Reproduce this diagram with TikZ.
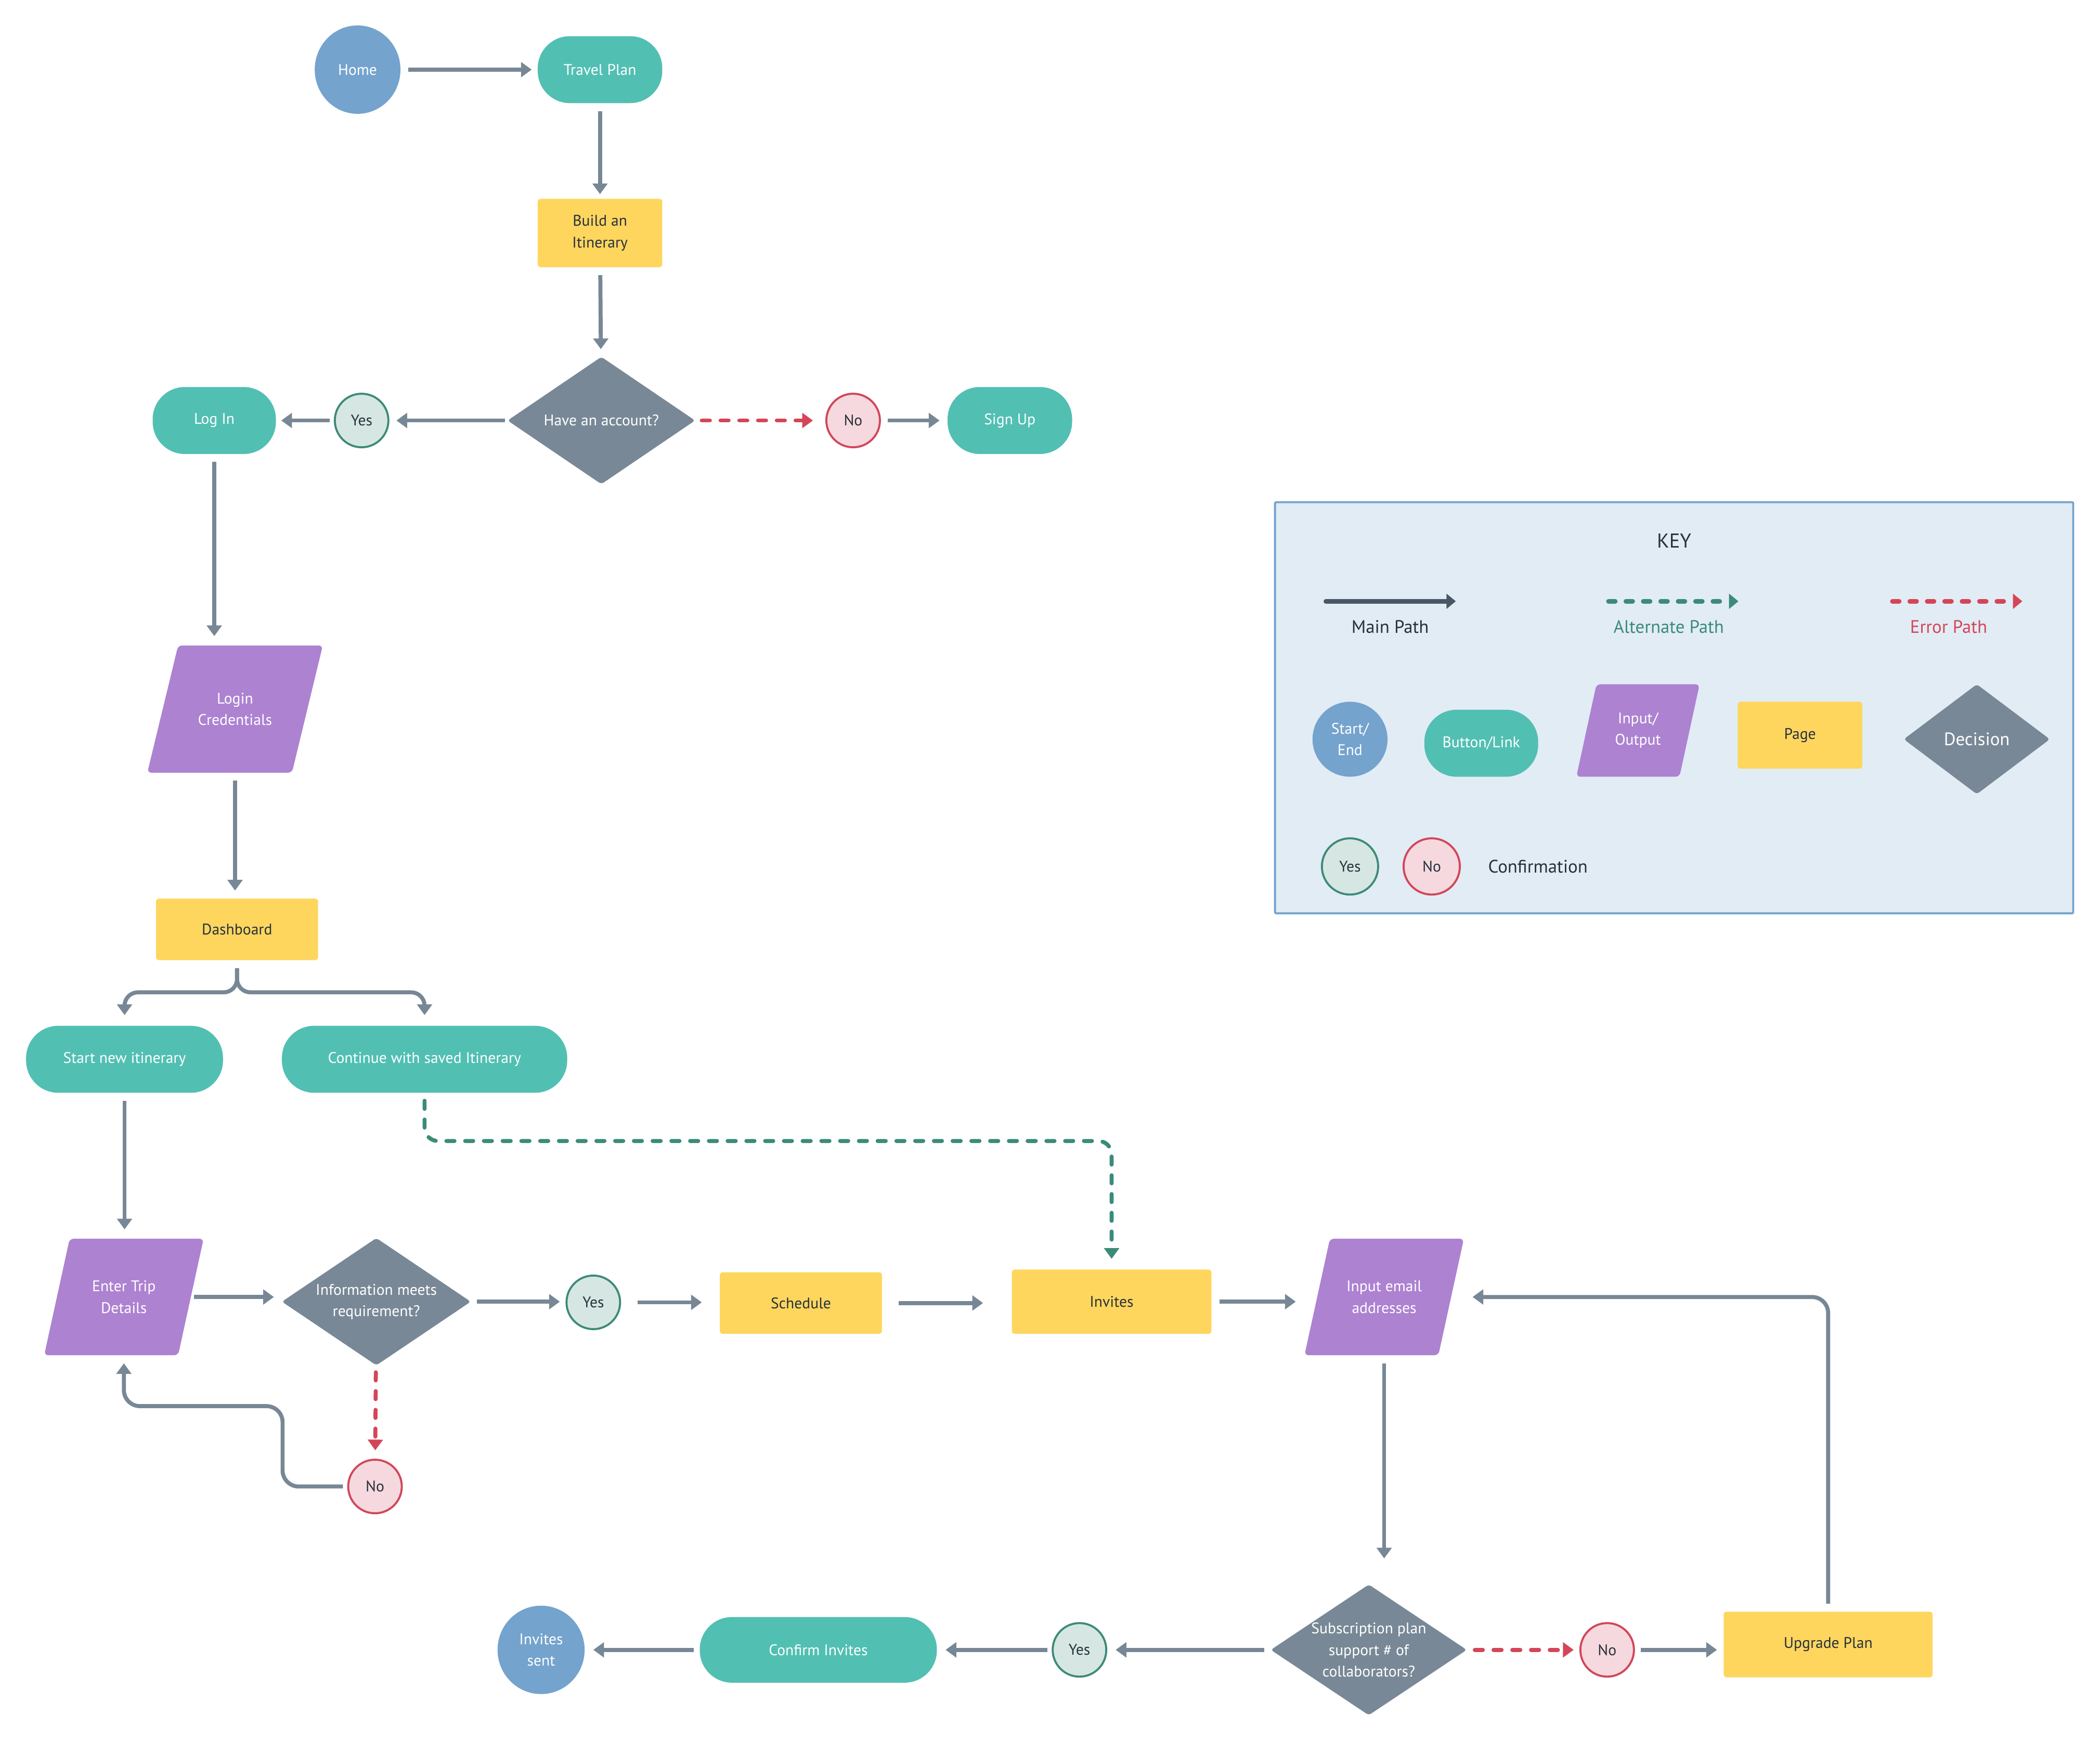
\documentclass[tikz,border=0pt]{standalone}
\usepackage{fontspec}
\setmainfont{PT Sans}
\usetikzlibrary{arrows.meta,shapes.geometric,calc}
\definecolor{cBlue}{HTML}{74A3CD}
\definecolor{cTeal}{HTML}{52BFB3}
\definecolor{cPurple}{HTML}{AD82D1}
\definecolor{cYellow}{HTML}{FED65E}
\definecolor{cGray}{HTML}{788896}
\definecolor{cArrow}{HTML}{778795}
\definecolor{cYesFill}{HTML}{D6E7E3}
\definecolor{cYesLine}{HTML}{3E8A78}
\definecolor{cNoFill}{HTML}{F6D9DE}
\definecolor{cNoLine}{HTML}{D2465A}
\definecolor{cRed}{HTML}{D34658}
\definecolor{cAlt}{HTML}{3B8B79}
\definecolor{cText}{HTML}{27313D}
\definecolor{cKeyFill}{HTML}{E2ECF5}
\definecolor{cKeyLine}{HTML}{74A3CD}
\definecolor{cMainKey}{HTML}{4A5866}
\pgfdeclarelayer{bg}
\pgfsetlayers{bg,main}
\newcommand\ioshape[2]{\fill[cPurple, rounded corners=3pt] ($(#1.north west)+(#2,0)$) -- ($(#1.north east)+(#2,0)$) -- ($(#1.south east)-(#2,0)$) -- ($(#1.south west)-(#2,0)$) -- cycle;}
\begin{document}
\begin{tikzpicture}[x=1pt,y=-1pt,
  base/.style={inner sep=0pt, outer sep=0pt, align=center, font=\fontsize{11.5}{16}\selectfont},
  startend/.style={base, ellipse, fill=cBlue, text=white},
  button/.style={base, rectangle, rounded corners=24pt, fill=cTeal, text=white},
  page/.style={base, rectangle, rounded corners=2pt, fill=cYellow, text=cText},
  decision/.style={base, diamond, aspect=1.5, fill=cGray, text=white, rounded corners=2pt},
  io/.style={base, rectangle, text=white},
  yesnode/.style={base, circle, minimum size=40pt, fill=cYesFill, draw=cYesLine, line width=1.5pt, text=cText},
  nonode/.style={base, circle, minimum size=40pt, fill=cNoFill, draw=cNoLine, line width=1.5pt, text=cText},
  mainarrow/.style={draw=cArrow, line width=3pt, -{Triangle[length=8pt,width=11pt]}, shorten <=6pt, shorten >=6pt},
  altarrow/.style={draw=cAlt, line width=3pt, line cap=round, dash pattern=on 6pt off 8pt, -{Triangle[length=8pt,width=11pt]}, shorten <=6pt, shorten >=6pt},
  errarrow/.style={draw=cRed, line width=3pt, line cap=round, dash pattern=on 6pt off 8pt, -{Triangle[length=8pt,width=11pt]}, shorten <=6pt, shorten >=6pt},
  keylabel/.style={font=\fontsize{13.5}{16}\selectfont, inner sep=0pt}
]
\useasboundingbox (0,0) rectangle (1568,1300);

% background and key box
\begin{pgfonlayer}{bg}
\fill[white] (0,0) rectangle (1568,1300);
\node[draw=cKeyLine, fill=cKeyFill, line width=1.5pt, rounded corners=1pt, minimum width=596pt, minimum height=307pt, inner sep=0pt] (keybox) at (1250,528.5) {};
\end{pgfonlayer}

% main flow nodes
\node[startend, minimum width=64pt, minimum height=66pt] (home) at (267,52) {Home};
\node[button, minimum width=93pt, minimum height=50pt] (tp) at (448,52) {Travel Plan};
\node[page, minimum width=93pt, minimum height=51pt] (build) at (448,174) {Build an\\Itinerary};
\node[decision, minimum width=140pt, minimum height=95pt] (have) at (449,314) {Have an account?};
\node[yesnode] (yes1) at (270,314) {Yes};
\node[button, minimum width=92pt, minimum height=50pt] (login) at (160,314) {Log In};
\node[nonode] (no1) at (637,314) {No};
\node[button, minimum width=93pt, minimum height=50pt] (signup) at (754,314) {Sign Up};
\node[io, minimum width=108pt, minimum height=95pt] (lc) at (175.5,529.5) {Login\\Credentials};
\node[page, minimum width=121pt, minimum height=46pt] (dash) at (177,694) {Dashboard};
\node[button, minimum width=147pt, minimum height=50pt] (sni) at (93,791) {Start new itinerary};
\node[button, minimum width=213pt, minimum height=50pt] (cont) at (317,791) {Continue with saved Itinerary};
\node[io, minimum width=100pt, minimum height=87pt] (etd) at (92.5,968.5) {Enter Trip\\Details};
\node[decision, minimum width=141pt, minimum height=95pt] (info) at (281,972) {Information meets\\requirement?};
\node[yesnode] (yes2) at (443,972.5) {Yes};
\node[page, minimum width=121pt, minimum height=46pt] (sched) at (598,973) {Schedule};
\node[page, minimum width=149pt, minimum height=48pt] (inv) at (830,972) {Invites};
\node[io, minimum width=100pt, minimum height=87pt] (iea) at (1033.5,968.5) {Input email\\addresses};
\node[nonode] (no3) at (280,1110) {No};
\node[decision, minimum width=140pt, minimum height=95pt] (sub) at (1022,1232) {Subscription plan\\support \# of\\collaborators?};
\node[nonode] (no4) at (1200,1232) {No};
\node[page, minimum width=156pt, minimum height=49pt] (up) at (1365,1228) {Upgrade Plan};
\node[yesnode] (yes5) at (806,1232) {Yes};
\node[button, minimum width=177pt, minimum height=49pt] (ci) at (611,1232) {Confirm Invites};
\node[startend, minimum width=65pt, minimum height=66pt] (sent) at (404,1232) {Invites\\sent};

% key contents
\node[keylabel, text=cText, font=\fontsize{15}{16}\selectfont] (keytitle) at (1250,404) {KEY};
\coordinate (kma) at (990,449); \coordinate (kmb) at (1087,449);
\coordinate (kaa) at (1201,449); \coordinate (kab) at (1298,449);
\coordinate (kea) at (1413,449); \coordinate (keb) at (1510,449);
\draw[draw=cMainKey, line width=3.5pt, line cap=round, -{Triangle[length=7pt,width=11pt]}] (kma) -- (kmb);
\draw[draw=cAlt, line width=3.5pt, line cap=round, dash pattern=on 5pt off 8pt, -{Triangle[length=7pt,width=11pt]}] (kaa) -- (kab);
\draw[draw=cRed, line width=3.5pt, line cap=round, dash pattern=on 5pt off 8pt, -{Triangle[length=7pt,width=11pt]}] (kea) -- (keb);
\node[keylabel, text=cText] (lmain) at (1038,468) {Main Path};
\node[keylabel, text=cAlt] (lalt) at (1246,468) {Alternate Path};
\node[keylabel, text=cRed] (lerr) at (1455,468) {Error Path};
\node[startend, minimum width=56pt, minimum height=56pt] (kse) at (1008,552) {Start/\\End};
\node[button, minimum width=85pt, minimum height=50pt] (kbl) at (1106,555) {Button/Link};
\node[io, minimum width=77pt, minimum height=69pt] (kio) at (1223,545.5) {Input/\\Output};
\node[page, minimum width=93pt, minimum height=50pt] (kpg) at (1344,549) {Page};
\node[decision, aspect=1.33, minimum width=109pt, minimum height=82pt, font=\fontsize{13.5}{16}\selectfont] (kdec) at (1476,552) {Decision};
\node[yesnode, minimum width=40pt, minimum height=42pt] (kyes) at (1008,647) {Yes};
\node[nonode, minimum width=40pt, minimum height=42pt] (kno) at (1069,647) {No};
\node[keylabel, text=cText, anchor=west] (lconf) at (1111,647) {Confirmation};

% parallelograms
\begin{pgfonlayer}{bg}
\ioshape{lc}{11.5}
\ioshape{etd}{9.5}
\ioshape{iea}{9.5}
\ioshape{kio}{7.5}
\end{pgfonlayer}

% connectors
\draw[mainarrow, shorten >=4.5pt] (home) -- (tp);
\draw[mainarrow, shorten >=3.5pt] (tp) -- (build);
\draw[mainarrow] (build) -- (have);
\draw[mainarrow, shorten <=2pt] (have) -- (yes1);
\draw[mainarrow, shorten <=4pt, shorten >=4pt] (yes1) -- (login);
\draw[errarrow, shorten <=5pt, shorten >=10pt] (have) -- (no1);
\draw[mainarrow] (no1) -- (signup);
\draw[mainarrow, shorten >=7pt] (login.south) -- (login.south |- lc.north);
\draw[mainarrow] (lc.south) -- (lc.south |- dash.north);
\draw[mainarrow, rounded corners=10pt, shorten >=8pt] (dash.south) -- ++(0,24) -| (sni.north);
\draw[mainarrow, rounded corners=10pt, shorten >=8pt] (dash.south) -- ++(0,24) -| (cont.north);
\draw[mainarrow, shorten >=7pt] (sni.south) -- (sni.south |- etd.north);
\draw[altarrow, rounded corners=10pt, shorten >=8pt] (cont.south) -- ++(0,36) -| (inv.north);
\draw[mainarrow, shorten <=2.5pt] (etd.east) -- (etd.east -| info.west);
\draw[mainarrow, shorten <=4.5pt, shorten >=5pt] (info.east) -- (info.east -| yes2.west);
\draw[mainarrow, shorten <=13pt, shorten >=13.5pt] (yes2.east) -- (yes2.east -| sched.west);
\draw[mainarrow, shorten <=12.5pt, shorten >=21.5pt] (sched.east) -- (sched.east -| inv.west);
\draw[mainarrow, shorten >=16pt] (inv.east) -- (inv.east -| iea.west);
\draw[errarrow, shorten <=5.5pt, shorten >=7pt] (info) -- (no3);
\coordinate (c1) at (211,1050);
\draw[mainarrow, rounded corners=12pt, shorten <=4pt] (no3.west) -- (no3.west -| c1) -- (c1) -- (c1 -| etd.south) -- (etd.south);
\draw[mainarrow, shorten >=19.5pt] (iea.south) -- (iea.south |- sub.north);
\draw[errarrow, shorten >=5pt] (sub) -- (no4);
\draw[mainarrow, shorten <=5pt, shorten >=5pt] (no4.east) -- (no4.east -| up.west);
\draw[mainarrow, rounded corners=12pt, shorten >=16pt] (up.north) |- (iea.east);
\draw[mainarrow, shorten <=5pt, shorten >=7pt] (sub) -- (yes5);
\draw[mainarrow, shorten <=4pt, shorten >=6.5pt] (yes5) -- (ci);
\draw[mainarrow, shorten <=4.5pt, shorten >=6.5pt] (ci) -- (sent);
\end{tikzpicture}
\end{document}
